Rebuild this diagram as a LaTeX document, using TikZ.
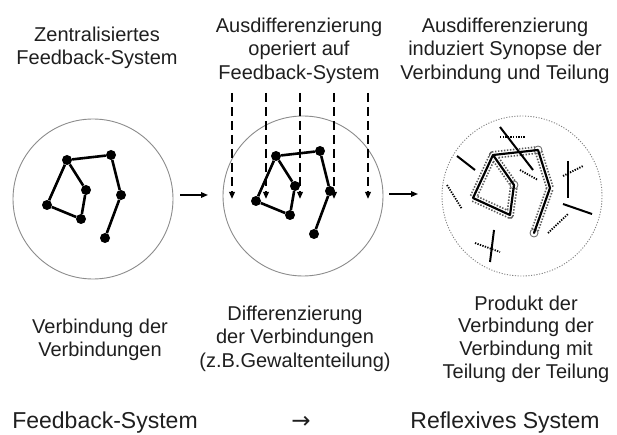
\documentclass[tikz,border=0pt]{standalone}
\usepackage{fontspec}
\setmainfont{Liberation Sans}
\newfontfamily\arrowfont{DejaVu Sans}
\usetikzlibrary{arrows.meta}
\begin{document}
\begin{tikzpicture}[x=1pt,y=-1pt,
  lbl/.style={align=center, font=\fontsize{20}{23.5}\selectfont, text=black!88, inner sep=0, anchor=north},
  big/.style={font=\fontsize{23}{27}\selectfont, text=black!88, inner sep=0, anchor=base},
  ring/.style={circle, draw=black!45, line width=0.9pt, minimum size=160pt, inner sep=0},
  dotring/.style={circle, draw=black!50, line width=0.9pt, dash pattern=on 1.1pt off 1.6pt, minimum size=160pt, inner sep=0},
  vtx/.style={circle, fill=black, inner sep=0, minimum size=10pt},
  pt/.style={circle, inner sep=0, minimum size=0pt},
  edge/.style={line width=2.6pt},
  thinedge/.style={line width=2.2pt, line cap=round, line join=round},
  flow/.style={-{Triangle[length=7pt,width=5.5pt]}, line width=1.5pt},
  drop/.style={-{Triangle[length=7pt,width=5.5pt]}, line width=1.8pt, dash pattern=on 9pt off 5pt},
  solidbar/.style={line width=2pt},
  dotbar/.style={line width=1.8pt, dash pattern=on 1.3pt off 1.3pt},
  haloout/.style={line width=8pt, draw=black!65, dash pattern=on 1.4pt off 1.6pt, line join=round},
  haloin/.style={line width=4.6pt, draw=white, line join=round, line cap=round},
  knot/.style={circle, draw=black!60, fill=white, line width=0.8pt, inner sep=0, minimum size=8pt}
]
\useasboundingbox (0,0) rectangle (617,435);
\fill[white] (0,0) rectangle (617,435);

% circles
\node[ring] (c1) at (93,199) {};
\node[ring] (c2) at (303,196) {};
\node[dotring] (c3) at (522,196) {};

% network 1
\foreach \n/\x/\y in {A/67/160, B/111/155, C/86/190, D/47/205, E/81/219, F/121/195, G/105/238}
  \node[vtx] (a\n) at (\x,\y) {};
\draw[edge] (aA)--(aB) (aA)--(aC) (aC)--(aE) (aE)--(aD) (aD)--(aA) (aB)--(aF) (aF)--(aG);

% network 2
\foreach \n/\x/\y in {A/67/160, B/111/155, C/86/190, D/47/205, E/81/219, F/121/195, G/105/238}
  \node[vtx] (b\n) at (\x+209,\y-4) {};
\draw[edge] (bA)--(bB) (bA)--(bC) (bC)--(bE) (bE)--(bD) (bD)--(bA) (bB)--(bF) (bF)--(bG);

% dashed arrows
\foreach \i/\x in {1/232, 2/266, 3/300, 4/334, 5/368} {
  \coordinate (s\i) at (\x,93);
  \coordinate (t\i) at (\x,199);
  \draw[drop] (s\i) -- (t\i);
}

% network 3
\foreach \n/\x/\y in {A/493/155, B/538/150, C/514/185, D/473/198, E/510/215, F/550/188, G/534/233}
  \node[pt] (r\n) at (\x,\y) {};
\draw[haloout] (rC.center)--(rA.center)--(rB.center)--(rF.center)--(rG.center);
\draw[haloout] (rA.center)--(rD.center)--(rE.center)--(rC.center);
\draw[haloin] (rC.center)--(rA.center)--(rB.center)--(rF.center)--(rG.center);
\draw[haloin] (rA.center)--(rD.center)--(rE.center)--(rC.center);
\node[knot] at (rB) {};
\node[knot] at (rC) {};
\node[knot] at (rG) {};
\draw[thinedge] (rA.center)--(rB.center) (rA.center)--(rC.center) (rC.center)--(rE.center) (rE.center)--(rD.center) (rD.center)--(rA.center) (rB.center)--(rF.center) (rF.center)--(rG.center);

% scattered fragments
\draw[solidbar] (500,127)--(533,170);
\draw[solidbar] (457,156)--(475,170);
\draw[solidbar] (568,161)--(568,198);
\draw[solidbar] (563,204)--(592,214);
\draw[solidbar] (494,230)--(490,262);
\draw[dotbar] (500,137)--(525,137);
\draw[dotbar] (520,170)--(538,180);
\draw[dotbar] (447,185)--(462,209);
\draw[dotbar] (563,176)--(583,166);
\draw[dotbar] (548,233)--(568,214);
\draw[dotbar] (475,243)--(500,252);

% flow arrows
\coordinate (f1s) at (180,195);
\coordinate (f1t) at (208,195);
\coordinate (f2s) at (389,194);
\coordinate (f2t) at (418,194);
\draw[flow] (f1s) -- (f1t);
\draw[flow] (f2s) -- (f2t);

% labels
\node[lbl] (t1) at (97,26.5) {Zentralisiertes\\Feedback-System};
\node[lbl] (t2) at (299,17.5) {Ausdifferenzierung\\operiert auf\\Feedback-System};
\node[lbl] (t3) at (505,17.5) {Ausdifferenzierung\\induziert Synopse der\\Verbindung und Teilung};
\node[lbl] (b1) at (100,318.5) {Verbindung der\\Verbindungen};
\node[lbl] (b2) at (295,305.5) {Differenzierung\\der Verbindungen\\(z.B.Gewaltenteilung)};
\node[lbl, font=\fontsize{20}{22.8}\selectfont] (b3) at (526,295.5) {Produkt der\\Verbindung der\\Verbindung mit\\Teilung der Teilung};

\node[big] (z1) at (105,428) {Feedback-System};
\node[big] (z2) at (301,428) {\arrowfont →};
\node[big] (z3) at (505,428) {Reflexives System};
\end{tikzpicture}
\end{document}
